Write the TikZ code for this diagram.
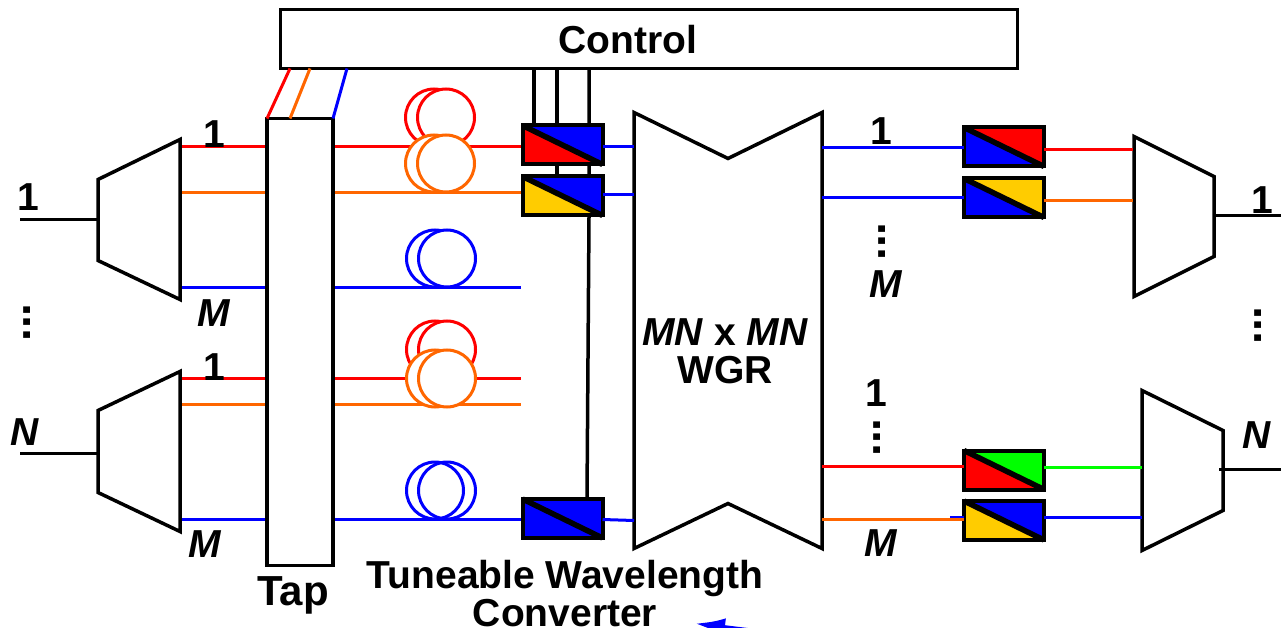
\documentclass[tikz,border=0pt]{standalone}
\usepackage{fontspec}
\setmainfont{Liberation Sans}
\usetikzlibrary{arrows.meta,calc,positioning}
\definecolor{Red}{HTML}{FF0000}
\definecolor{Orange}{HTML}{FF6600}
\definecolor{Blue}{HTML}{0000FF}
\definecolor{Gold}{HTML}{FFCC00}
\definecolor{Green}{HTML}{00FF00}
% converter box: name, position, lower colour, upper colour
\newcommand{\wlc}[4]{%
  \node[wlcbox] (#1) at (#2) {};
  \fill[#3] (#1.north west) -- (#1.south west) -- (#1.south east) -- cycle;
  \fill[#4] (#1.north west) -- (#1.north east) -- (#1.south east) -- cycle;
  \draw[line width=4pt] (#1.north west) rectangle (#1.south east);
  \draw[line width=5.5pt] (#1.north west) -- (#1.south east);
}
% fibre coil: name, position, colour
\newcommand{\coil}[3]{%
  \node[coilring,draw=#3] (#1a) at (#2) {};
  \node[coilring,draw=#3,right=-48pt of #1a] (#1b) {};
}
\begin{document}
\begin{tikzpicture}[x=1pt,y=-1pt,line width=3.5pt,
    big/.style={font=\fontsize{39}{38}\selectfont\bfseries,inner sep=0pt},
    num/.style={font=\fontsize{39}{38}\selectfont\bfseries,inner sep=0pt},
    var/.style={font=\fontsize{39}{38}\selectfont\bfseries\itshape,inner sep=0pt},
    vdots/.style={font=\fontsize{46}{46}\selectfont\bfseries,inner sep=0pt,rotate=90},
    plainbox/.style={draw,fill=white,inner sep=0pt},
    wlcbox/.style={minimum width=80pt,minimum height=39pt,inner sep=0pt,outer sep=0pt},
    coilring/.style={circle,line width=3pt,fill=white,minimum size=57pt,inner sep=0pt},
    fibre/.style={line width=3pt},
    device/.style={draw,fill=white,line width=3.5pt,line join=miter}]
  \useasboundingbox (0,-0.5) rectangle (1281,627.5);
  \clip (0,-0.5) rectangle (1281,627.5);

  % main boxes
  \node[plainbox,minimum width=737pt,minimum height=59pt] (control) at (649,38.5) {};
  \node[plainbox,minimum width=66pt,minimum height=447pt] (tap) at (300,341.5) {};
  \node[big] (controltext) at (628,39) {Control};

  % rails
  \coordinate (inA) at (180,146);
  \coordinate (inB) at (180,192);
  \coordinate (inC) at (180,287);
  \coordinate (inD) at (180,378);
  \coordinate (inE) at (180,404);
  \coordinate (inF) at (180,519);
  \coordinate (portA) at (521,146);
  \coordinate (portB) at (521,192);
  \coordinate (portC) at (521,287);
  \coordinate (portD) at (521,378);
  \coordinate (portE) at (521,404);
  \coordinate (portF) at (521,519);

  \draw[fibre,Red] (inA) -- (inA -| tap.west) (tap.east |- inA) -- (portA);
  \draw[fibre,Orange] (inB) -- (inB -| tap.west) (tap.east |- inB) -- (portB);
  \draw[fibre,Blue] (inC) -- (inC -| tap.west) (tap.east |- inC) -- (portC);
  \draw[fibre,Red] (inD) -- (inD -| tap.west) (tap.east |- inD) -- (portD);
  \draw[fibre,Orange] (inE) -- (inE -| tap.west) (tap.east |- inE) -- (portE);
  \draw[fibre,Blue] (inF) -- (inF -| tap.west) (tap.east |- inF) -- (portF);

  % tap to control
  \coordinate (tapR) at (267,118);
  \coordinate (tapO) at (290,118);
  \coordinate (tapB) at (333,118);
  \coordinate (ctlR) at (290,68);
  \coordinate (ctlO) at (310,68);
  \coordinate (ctlB) at (347,68);
  \draw[fibre,Red] (tapR) -- (ctlR);
  \draw[fibre,Orange] (tapO) -- (ctlO);
  \draw[fibre,Blue] (tapB) -- (ctlB);

  % coils
  \coil{coilA}{434,117}{Red}
  \coil{coilB}{434,163}{Orange}
  \coil{coilC}{435,258}{Blue}
  \coil{coilD}{435,349}{Red}
  \coil{coilE}{435,378}{Orange}
  \node[coilring,draw=Blue] (coilFa) at (435,490) {};
  \node[coilring,draw=Blue,fill=none,right=-48pt of coilFa] (coilFb) {};

  % control wires
  \coordinate (wireA) at (534,68);
  \coordinate (wireB) at (557,68);
  \coordinate (wireC) at (589,68);
  \coordinate (wireD) at (587,497);
  \draw (wireA) -- (534,124);
  \draw (wireB) -- (557,175);
  \draw (wireC) -- (589,216) -- (wireD);

  % input demultiplexers
  \draw[device] (98,179) coordinate (demuxA) -- (180,139) -- (180,299) -- (98,260) -- cycle;
  \draw[device] (98,410) coordinate (demuxB) -- (180,371) -- (180,531) -- (98,492) -- cycle;
  \coordinate (inputA) at (20,219);
  \coordinate (inputB) at (20,453);
  \draw (inputA) -- (98,219);
  \draw (inputB) -- (98,453);

  % router
  \draw[device] (634,112) coordinate (wgrNW) -- (728,158) -- (822,112) coordinate (wgrNE)
    -- (822,548) coordinate (wgrSE) -- (728,503) -- (634,548) coordinate (wgrSW) -- cycle;

  % converters
  \wlc{wlcA}{562.5,144.5}{Red}{Blue}
  \wlc{wlcB}{562.5,195.5}{Gold}{Blue}
  \wlc{wlcC}{562.5,518}{Blue}{Blue}
  \wlc{wlcD}{1004,146.5}{Blue}{Red}
  \wlc{wlcE}{1004,197.5}{Blue}{Gold}
  \wlc{wlcF}{1004,469.5}{Red}{Green}
  \wlc{wlcG}{1004,520}{Gold}{Blue}

  % output multiplexers
  \draw[device] (1134,136) coordinate (muxA) -- (1214,176) -- (1214,256) -- (1134,296) -- cycle;
  \draw[device] (1142,390) coordinate (muxB) -- (1223,430) -- (1223,510) -- (1142,550) -- cycle;
  \coordinate (outputA) at (1281,215);
  \coordinate (outputB) at (1281,469);
  \draw (1214,215) -- (outputA);
  \draw (1219,469) -- (outputB);

  % router links
  \draw[fibre,Blue] (wlcA.east |- 0,146) -- (634,146);
  \draw[fibre,Blue] (wlcB.east |- 0,194) -- (634,194);
  \draw[fibre,Blue] (wlcC.east |- 0,519) -- (634,520);
  \draw[fibre,Blue] (822,147) -- (wlcD.west |- 0,147);
  \draw[fibre,Blue] (822,197) -- (wlcE.west |- 0,197);
  \draw[fibre,Red] (822,466) -- (wlcF.west |- 0,466);
  \draw[fibre,Blue] (950,517) -- (wlcG.west |- 0,517);
  \draw[fibre,Orange] (822,519) -- (wlcG.west |- 0,519);
  \draw[fibre,Red] (wlcD.east |- 0,149) -- (1133,149);
  \draw[fibre,Orange] (wlcE.east |- 0,200) -- (1133,200);
  \draw[fibre,Green] (wlcF.east |- 0,467) -- (1142,467);
  \draw[fibre,Blue] (wlcG.east |- 0,517) -- (1142,517);

  % labels
  \node[num] (oneA) at (214,134) {1};
  \node[num] (oneB) at (28,197) {1};
  \node[num] (oneC) at (214,367) {1};
  \node[num] (oneD) at (881,131) {1};
  \node[num] (oneE) at (876,393) {1};
  \node[num] (oneF) at (1262,200) {1};
  \node[var] (emA) at (214,313) {M};
  \node[var] (emB) at (205,544) {M};
  \node[var] (emC) at (886,284) {M};
  \node[var] (emD) at (881,543) {M};
  \node[var] (enA) at (25,432) {N};
  \node[var] (enB) at (1257,435) {N};
  \node[vdots] (dotsA) at (27,322) {...};
  \node[vdots] (dotsB) at (882,241) {...};
  \node[vdots] (dotsC) at (877,437) {...};
  \node[vdots] (dotsD) at (1258,325) {...};
  \node[big,align=center] (wgrtext) at (725,351) {\textit{MN} x \textit{MN}\\WGR};
  \node[big,font=\fontsize{42}{38}\selectfont\bfseries] (taptext) at (293,595) {Tap};
  \node[big,align=center] (twctext) at (565,593) {Tuneable Wavelength\\Converter};

  % stray arrow on the lower edge
  \coordinate (arrowEnd) at (800,636);
  \coordinate (arrowTip) at (695,623);
  \draw[-{Latex[length=30pt,width=18pt]},Blue,line width=4pt] (arrowEnd) -- (arrowTip);
\end{tikzpicture}
\end{document}
